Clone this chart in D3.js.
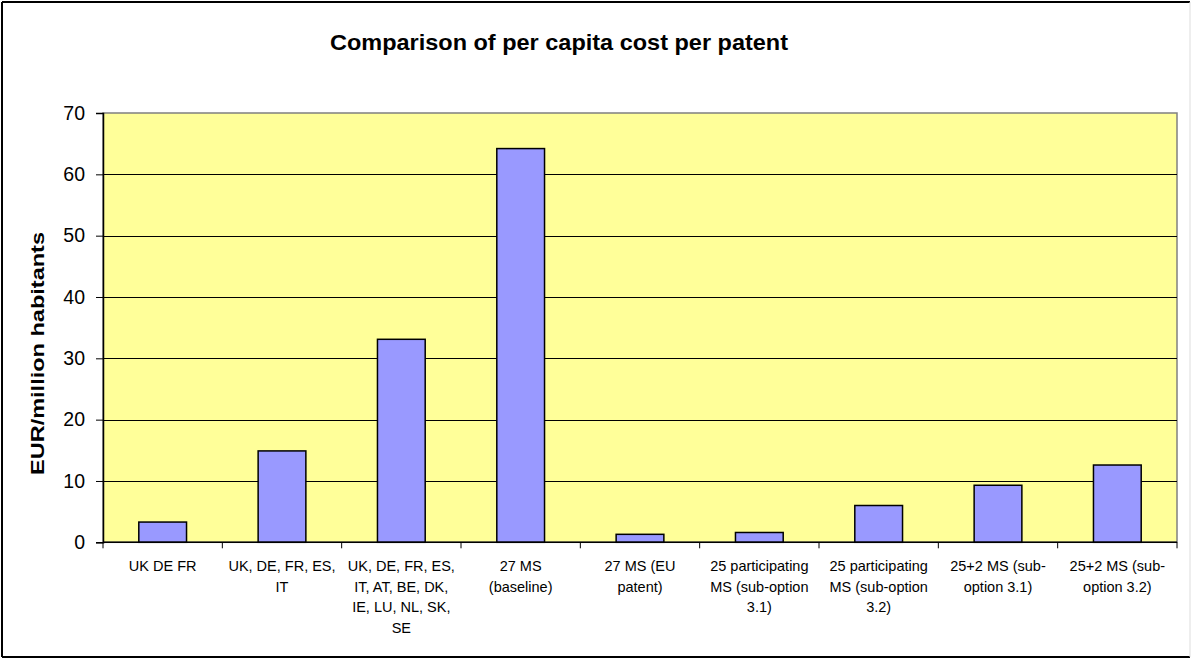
<!DOCTYPE html>
<html><head><meta charset="utf-8">
<script src="https://cdn.jsdelivr.net/npm/d3@7"></script>
<style>body{margin:0;background:#fff}svg{display:block}</style>
</head><body><svg id="c" width="1192" height="659"></svg>
<script>
const categories = [
  ["UK DE FR"],
  ["UK, DE, FR, ES,", "IT"],
  ["UK, DE, FR, ES,", "IT, AT, BE, DK,", "IE, LU, NL, SK,", "SE"],
  ["27 MS", "(baseline)"],
  ["27 MS (EU", "patent)"],
  ["25 participating", "MS (sub-option", "3.1)"],
  ["25 participating", "MS (sub-option", "3.2)"],
  ["25+2 MS (sub-", "option 3.1)"],
  ["25+2 MS (sub-", "option 3.2)"]
];
const values = [3.3, 14.9, 33.1, 64.2, 1.3, 1.6, 6.0, 9.3, 12.6];
const yTicks = [0, 10, 20, 30, 40, 50, 60, 70];
const title = "Comparison of per capita cost per patent";
const yLabel = "EUR/million habitants";

const svg = d3.select("#c");
const font = "Arial, 'Liberation Sans', sans-serif";
const m = {left: 103, right: 1177, top: 113, bottom: 542.3};

// outer border
svg.append("line").attr("x1",2).attr("x2",1190).attr("y1",2).attr("y2",2).attr("stroke","#000").attr("stroke-width",2);
svg.append("line").attr("x1",2).attr("x2",2).attr("y1",2).attr("y2",657).attr("stroke","#000").attr("stroke-width",2);
svg.append("line").attr("x1",2).attr("x2",1190).attr("y1",657).attr("y2",657).attr("stroke","#000").attr("stroke-width",2);
svg.append("line").attr("x1",1190).attr("x2",1190).attr("y1",2).attr("y2",657).attr("stroke","#ddd").attr("stroke-width",1);

const x = d3.scaleBand().domain(d3.range(categories.length)).range([m.left, m.right]).paddingInner(0.6).paddingOuter(0.3);
const y = d3.scaleLinear().domain([0, 70]).range([m.bottom, m.top]);

// plot background
svg.append("rect").attr("x", m.left).attr("y", m.top).attr("width", m.right - m.left).attr("height", m.bottom - m.top)
  .attr("fill", "#ffff99").attr("stroke", "#808080").attr("stroke-width", 1.5);

// gridlines
svg.append("g").selectAll("line").data(yTicks.filter(d => d > 0 && d < 70)).join("line")
  .attr("x1", m.left).attr("x2", m.right).attr("y1", d => Math.round(y(d)) + 0.5).attr("y2", d => Math.round(y(d)) + 0.5)
  .attr("stroke", "#000").attr("stroke-width", 1);

// bars
svg.append("g").selectAll("rect").data(values).join("rect")
  .attr("x", (d, i) => x(i)).attr("width", x.bandwidth())
  .attr("y", d => y(d)).attr("height", d => y(0) - y(d))
  .attr("fill", "#9999ff").attr("stroke", "#000").attr("stroke-width", 1.5);

// y axis
const yAxis = d3.axisLeft(y).tickValues(yTicks).tickSize(7).tickPadding(11);
const gy = svg.append("g").attr("transform", `translate(${m.left},0)`).call(yAxis);
gy.select(".domain").attr("stroke", "#000").attr("stroke-width", 1.5);
gy.selectAll(".tick line").attr("stroke", "#000");
gy.selectAll("text").attr("font-family", font).attr("font-size", 19.5).attr("fill", "#000");

// x axis baseline and boundary ticks
svg.append("line").attr("x1", m.left).attr("x2", m.right).attr("y1", y(0)).attr("y2", y(0)).attr("stroke", "#000").attr("stroke-width", 1.5);
svg.append("g").selectAll("line").data(d3.range(categories.length + 1)).join("line")
  .attr("x1", i => m.left + i * x.step())
  .attr("x2", i => m.left + i * x.step())
  .attr("y1", y(0)).attr("y2", y(0) + 6).attr("stroke", "#000");

// x labels
const gx = svg.append("g");
categories.forEach((lines, i) => {
  const cx = x(i) + x.bandwidth() / 2;
  const t = gx.append("text").attr("x", cx).attr("y", 571)
    .attr("text-anchor", "middle").attr("font-family", font).attr("font-size", 14.5).attr("fill", "#000");
  lines.forEach((l, j) => t.append("tspan").attr("x", cx).attr("dy", j === 0 ? 0 : 20.7).text(l));
});

// title
svg.append("text").attr("x", 559).attr("y", 50).attr("text-anchor", "middle")
  .attr("font-family", font).attr("font-weight", "bold").attr("font-size", 22)
  .attr("textLength", 458).attr("lengthAdjust", "spacingAndGlyphs").text(title);

// y label
svg.append("text").attr("transform", "translate(44,353.5) rotate(-90)").attr("text-anchor", "middle")
  .attr("font-family", font).attr("font-weight", "bold").attr("font-size", 19)
  .attr("textLength", 243).attr("lengthAdjust", "spacingAndGlyphs").text(yLabel);
</script></body></html>
